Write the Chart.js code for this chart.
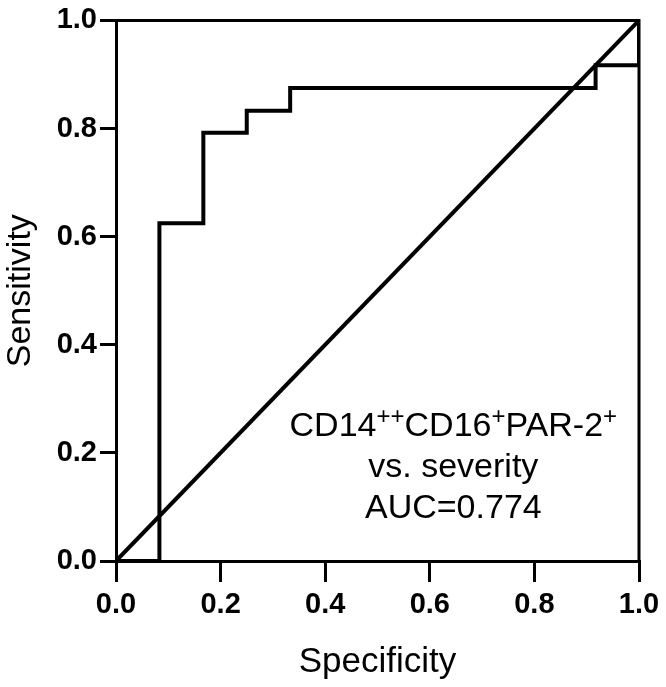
<!DOCTYPE html>
<html>
<head>
<meta charset="utf-8">
<script src="https://cdn.jsdelivr.net/npm/chart.js@4"></script>
<style>
	html, body { margin: 0; padding: 0; background: #fff; }
	#wrap { width: 666px; height: 687px; }
</style>
</head>
<body>
<div id="wrap"><canvas id="myChart" width="666" height="687"></canvas></div>
<script>
// ROC curve (x = 1 - specificity, y = sensitivity)
var rocX = [0, 0.083, 0.083, 0.167, 0.167, 0.25, 0.25, 0.333, 0.333, 0.917, 0.917, 1, 1];
var rocY = [0, 0, 0.625, 0.625, 0.792, 0.792, 0.833, 0.833, 0.875, 0.875, 0.917, 0.917, 1];
var refX = [0, 1];
var refY = [0, 1];
var tickValues = [0, 0.2, 0.4, 0.6, 0.8, 1.0];
var xTitle = "Specificity";
var yTitle = "Sensitivity";
// annotation: each line is a list of [text, isSuperscript]
var noteLines = [
	[["CD14", false], ["++", true], ["CD16", false], ["+", true], ["PAR-2", false], ["+", true]],
	[["vs. severity", false]],
	[["AUC=0.774", false]],
];
var notePos = { x: 0.645, y: [0.232, 0.156, 0.079] };

var FONT = "'Liberation Sans', Arial, sans-serif";

function toPoints(xs, ys) {
	var pts = [];
	for (var i = 0; i < xs.length; i++) {
		pts.push({ x: xs[i], y: ys[i] });
	}
	return pts;
}

// box round the plot and the annotation text
var framePlugin = {
	id: "frame",
	afterDraw: function (chart) {
		var ctx = chart.ctx;
		var a = chart.chartArea;
		ctx.save();
		ctx.strokeStyle = "#000";
		ctx.lineWidth = 3;
		ctx.beginPath();
		ctx.moveTo(a.left, a.top);
		ctx.lineTo(a.right, a.top);
		ctx.lineTo(a.right, a.bottom);
		ctx.stroke();

		var cx = chart.scales.x.getPixelForValue(notePos.x);
		ctx.fillStyle = "#000";
		ctx.textBaseline = "alphabetic";
		ctx.textAlign = "left";
		for (var l = 0; l < noteLines.length; l++) {
			var segs = noteLines[l];
			var by = chart.scales.y.getPixelForValue(notePos.y[l]);
			var total = 0;
			for (var s = 0; s < segs.length; s++) {
				ctx.font = (segs[s][1] ? "24px " : "34px ") + FONT;
				total += ctx.measureText(segs[s][0]).width;
			}
			var px = cx - total / 2;
			for (var s = 0; s < segs.length; s++) {
				ctx.font = (segs[s][1] ? "24px " : "34px ") + FONT;
				ctx.fillText(segs[s][0], px, segs[s][1] ? by - 12 : by);
				px += ctx.measureText(segs[s][0]).width;
			}
		}
		ctx.restore();
	},
};

var ctx = document.getElementById("myChart").getContext("2d");
var myChart = new Chart(ctx, {
	type: "scatter",
	data: {
		datasets: [
			{
				label: "ROC",
				data: toPoints(rocX, rocY),
				showLine: true,
				borderColor: "#000",
				borderWidth: 4,
				pointRadius: 0,
				tension: 0,
			},
			{
				label: "Reference",
				data: toPoints(refX, refY),
				showLine: true,
				borderColor: "#000",
				borderWidth: 4,
				pointRadius: 0,
			},
		],
	},
	options: {
		responsive: false,
		animation: false,
		layout: {
			padding: { top: 16, right: 27, left: 0, bottom: 0 },
		},
		plugins: {
			legend: { display: false },
			tooltip: { enabled: false },
		},
		scales: {
			x: {
				type: "linear",
				min: 0,
				max: 1,
				afterBuildTicks: function (scale) {
					scale.ticks = tickValues.map(function (v) { return { value: v }; });
				},
				afterFit: function (scale) {
					scale.height = 126;
				},
				ticks: {
					color: "#000",
					font: { family: FONT, size: 29, weight: "bold" },
					padding: 6,
					maxRotation: 0,
					callback: function (v) { return Number(v).toFixed(1); },
				},
				grid: {
					drawOnChartArea: false,
					drawTicks: true,
					tickLength: 21,
					color: "#000",
					lineWidth: 3,
				},
				border: { display: true, color: "#000", width: 3 },
				title: {
					display: true,
					text: xTitle,
					color: "#000",
					font: { family: FONT, size: 35 },
					padding: { top: 0, bottom: 4 },
				},
			},
			y: {
				type: "linear",
				min: 0,
				max: 1,
				afterBuildTicks: function (scale) {
					scale.ticks = tickValues.map(function (v) { return { value: v }; });
				},
				afterFit: function (scale) {
					scale.width = 116;
				},
				ticks: {
					color: "#000",
					font: { family: FONT, size: 29, weight: "bold" },
					padding: 3,
					callback: function (v) { return Number(v).toFixed(1); },
				},
				grid: {
					drawOnChartArea: false,
					drawTicks: true,
					tickLength: 16,
					color: "#000",
					lineWidth: 3,
				},
				border: { display: true, color: "#000", width: 3 },
				title: {
					display: true,
					text: yTitle,
					color: "#000",
					font: { family: FONT, size: 34 },
					padding: { top: 0, bottom: 0 },
				},
			},
		},
	},
	plugins: [framePlugin],
});
</script>
</body>
</html>
